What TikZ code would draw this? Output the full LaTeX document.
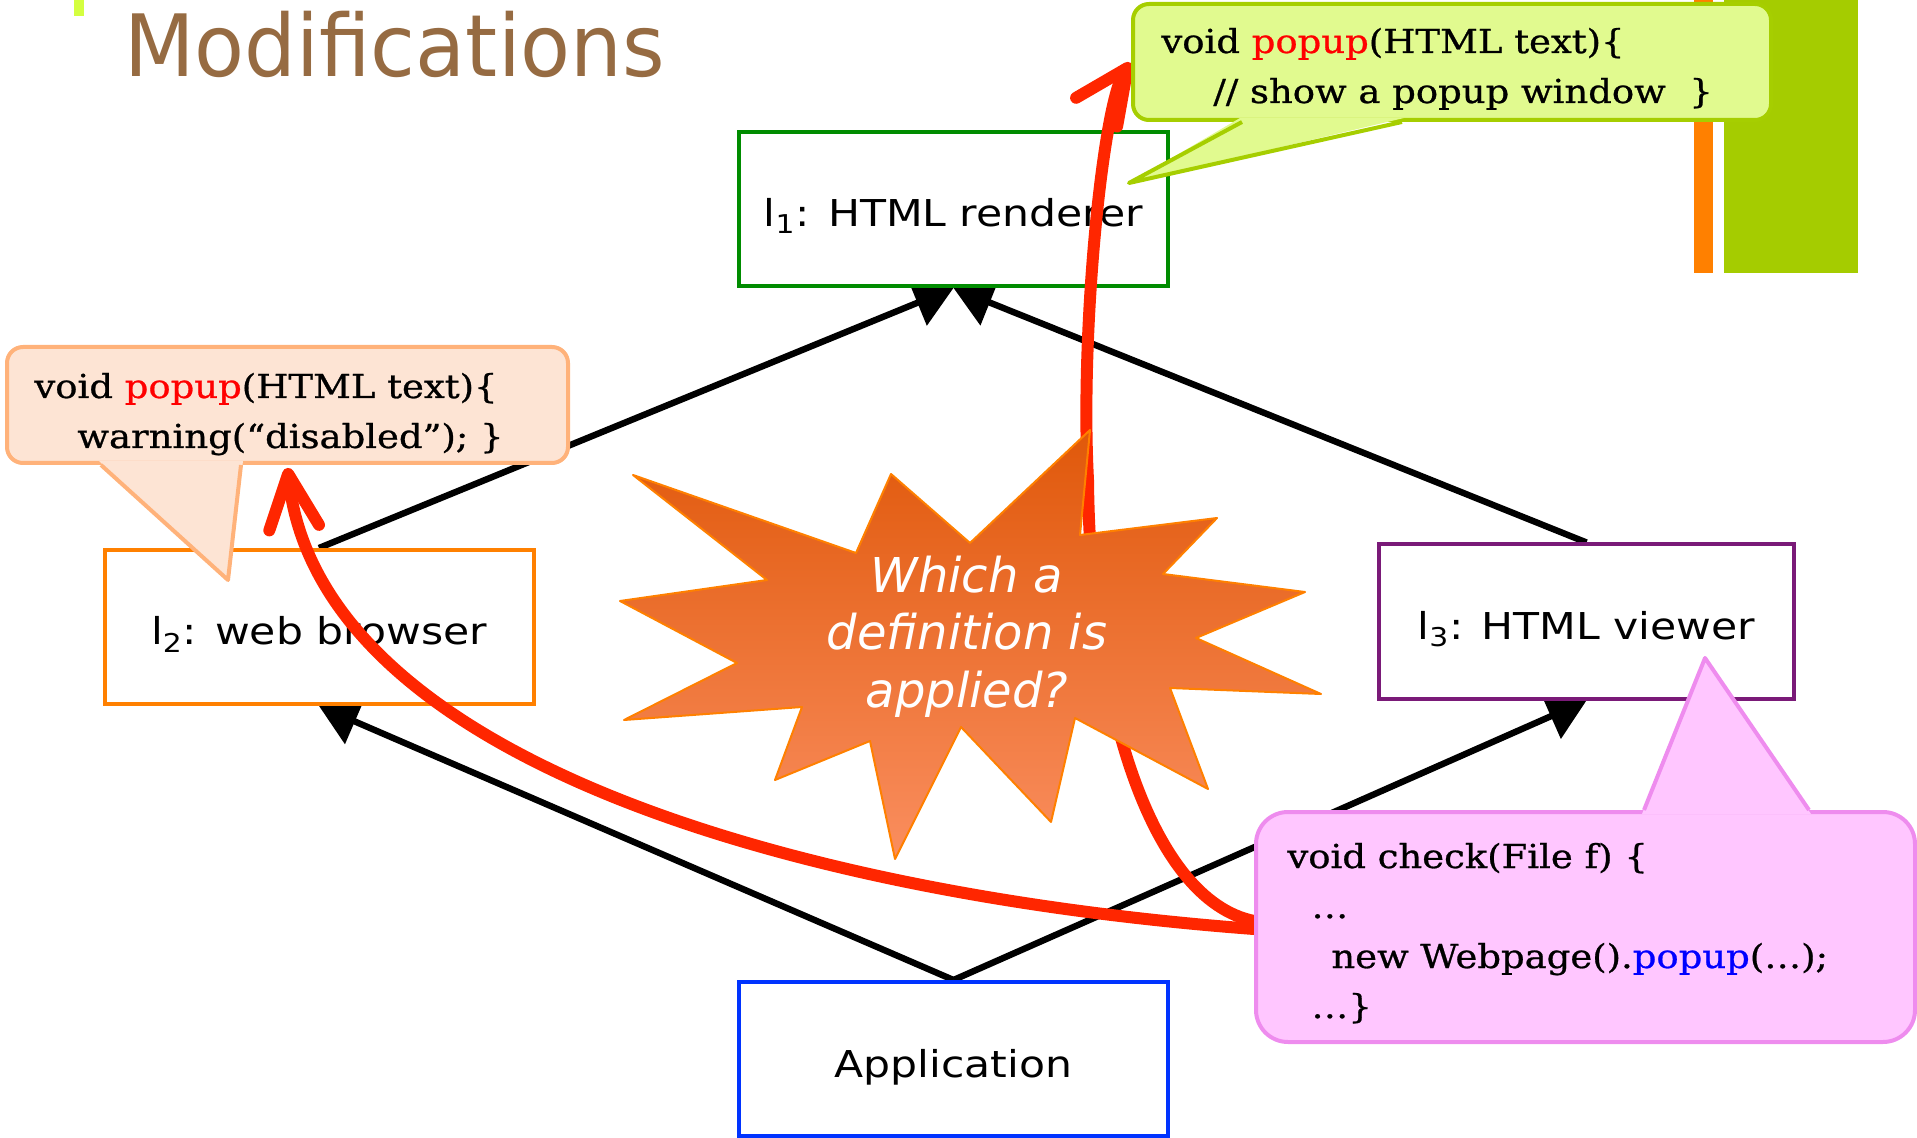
\documentclass[tikz,border=0pt]{standalone}
\usepackage{fontspec}
\setmainfont{DejaVu Sans}
\newfontfamily\titlefont[FakeStretch=0.95]{DejaVu Sans}
\newfontfamily\boxfont[FakeStretch=1.15]{DejaVu Sans}
\newfontfamily\codefont[FakeStretch=1.12,FakeBold=0.8]{DejaVu Serif}
\usetikzlibrary{calc,arrows.meta}
\pgfdeclarelayer{low}
\pgfdeclarelayer{mid}
\pgfsetlayers{low,mid,main}

\definecolor{titlebrown}{RGB}{150,107,66}
\definecolor{markgreen}{RGB}{212,255,64}
\definecolor{barorange}{RGB}{255,128,0}
\definecolor{bargreen}{RGB}{165,204,0}
\definecolor{rendgreen}{RGB}{0,140,0}
\definecolor{broworange}{RGB}{255,128,0}
\definecolor{viewpurple}{RGB}{122,26,120}
\definecolor{appblue}{RGB}{0,51,255}
\definecolor{callred}{RGB}{255,38,0}
\definecolor{startop}{RGB}{224,88,10}
\definecolor{starbot}{RGB}{250,142,95}
\definecolor{starline}{RGB}{255,128,0}
\definecolor{gfill}{RGB}{225,250,143}
\definecolor{gline}{RGB}{166,206,0}
\definecolor{ofill}{RGB}{253,228,212}
\definecolor{oline}{RGB}{255,178,122}
\definecolor{pfill}{RGB}{255,198,255}
\definecolor{pline}{RGB}{238,140,238}
\definecolor{popred}{RGB}{255,0,0}
\definecolor{popblue}{RGB}{0,0,255}

\begin{document}
\begin{tikzpicture}[x=0.5pt,y=-0.5pt]
\tikzstyle{box}=[draw,fill=white,line width=2pt,minimum width=214.5pt,minimum height=77pt,text height=18pt,text depth=0pt,font=\boxfont\fontsize{18.5}{22}\selectfont]
\tikzstyle{dep}=[line width=3.2pt,-{Triangle[length=19.5pt,width=24pt]}]
\tikzstyle{calls}=[line width=6pt,callred,line cap=round,-{Straight Barb[length=27pt,width=25pt,round]}]
\tikzstyle{bubble}=[line width=2pt,rounded corners=8pt,inner sep=0pt]
\tikzstyle{code}=[inner sep=0pt,anchor=base west,align=left,font=\codefont\fontsize{16.5}{25}\selectfont]

\useasboundingbox (0,0) rectangle (1917,1138);

% title
\fill[markgreen] (74,0) rectangle (84,16);
\node (title) at (124,77) [anchor=base west,inner sep=0pt,text=titlebrown,font=\titlefont\fontsize{43}{50}\selectfont] {Modifications};

% callouts (text nodes sit on the baseline of their last line)
\node (c1) at (1452,62) [bubble,draw=gline,fill=gfill,minimum width=319pt,minimum height=58pt] {};
\coordinate (p1) at (1129,183);
\fill[gfill] ($(c1.south)+(-212,-4)$) -- (p1) -- ($(c1.south)+(-48,-4)$) -- cycle;
\draw[gline,line width=2pt,line join=round] ($(c1.south)+(-210,0)$) -- (p1) -- ($(c1.south)+(-50,0)$);
\node (t1) at (1161,103) [code] {void \textcolor{popred}{popup}(HTML text)\{\\\hspace*{26pt}// show a popup window\ \ \}};

\node (c2) at (287.5,405) [bubble,draw=oline,fill=ofill,minimum width=280.5pt,minimum height=58pt] {};
\coordinate (p2) at (228,580);
\fill[ofill] ($(c2.south)+(-188.5,-4)$) -- (p2) -- ($(c2.south)+(-44.5,-4)$) -- cycle;
\draw[oline,line width=2pt,line join=round] ($(c2.south)+(-186.5,0)$) -- (p2) -- ($(c2.south)+(-46.5,0)$);
\node (t2) at (34,448) [code] {void \textcolor{popred}{popup}(HTML text)\{\\\hspace*{21.5pt}warning(“disabled”);\ \}};

\node (c3) at (1585.5,927) [bubble,rounded corners=16pt,draw=pline,fill=pfill,minimum width=329.5pt,minimum height=115pt] {};
\coordinate (p3) at (1705,658);
\fill[pfill] ($(c3.north)+(56.5,4)$) -- (p3) -- ($(c3.north)+(225.5,4)$) -- cycle;
\draw[pline,line width=2pt,line join=round] ($(c3.north)+(58.5,0)$) -- (p3) -- ($(c3.north)+(223.5,0)$);
\node (t3) at (1287,1018) [code] {void check(File f) \{\\\hspace*{12pt}…\\\hspace*{22pt}new Webpage().\textcolor{popblue}{popup}(…);\\\hspace*{12pt}…\}};

% the question
\draw[top color=startop,bottom color=starbot,draw=starline,line width=1pt,line join=round]
  (1090,430) -- (1080,535) -- (1217,518) -- (1163,574) -- (1305,592) -- (1196,638)
  -- (1321,694) -- (1170,688) -- (1208,789) -- (1075,718) -- (1051,822) -- (961,727)
  -- (895,859) -- (870,741) -- (775,780) -- (802,707) -- (624,720) -- (737,663)
  -- (620,601) -- (767,580) -- (633,475) -- (856,553) -- (891,474) -- (970,543) -- cycle;
\node (q) at (967,707) [anchor=base,inner sep=0pt,align=center,text=white,font=\fontsize{24}{28.75}\selectfont\itshape] {Which a\\definition is\\applied?};

\begin{pgfonlayer}{mid}
\fill[barorange] (1694,0) rectangle (1713,273);
\fill[bargreen] (1724,0) rectangle (1858,273);

\node (rend) at (953.5,209) [box,draw=rendgreen] {l\textsubscript{1}: HTML renderer};
\node (brow) at (319,627) [box,draw=broworange] {l\textsubscript{2}: web browser};
\node (view) at (1586.5,621.5) [box,draw=viewpurple,minimum width=207.5pt] {l\textsubscript{3}: HTML viewer};
\node (app) at (953.5,1059) [box,draw=appblue] {Application};

\draw[calls] ($(c3.west)+(0,2)$) .. controls (800,895) and (320,760) .. ($(c2.south)+(0,3)$);
\draw[calls] ($(c3.west)+(0,-6)$) .. controls (1150,900) and (1090,700) .. (1088,480)
  .. controls (1080,330) and (1103,103) .. ($(c1.west)+(0,1)$);
\end{pgfonlayer}

\begin{pgfonlayer}{low}
\draw[dep] (brow.north) -- (rend.south);
\draw[dep] (view.north) -- (rend.south);
\draw[dep] (app.north) -- (brow.south);
\draw[dep] (app.north) -- (view.south);
\end{pgfonlayer}
\end{tikzpicture}
\end{document}
